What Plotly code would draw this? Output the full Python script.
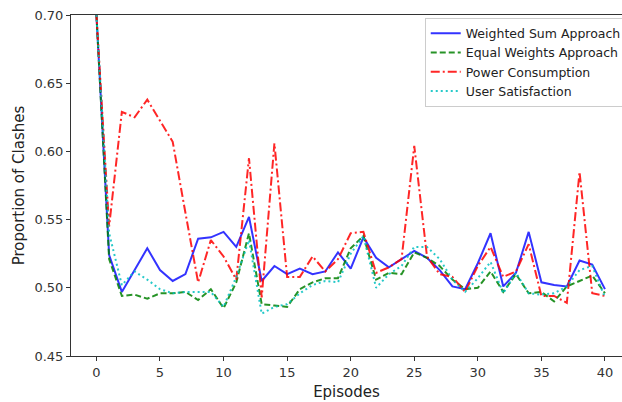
import plotly.graph_objects as go

episodes = list(range(41))

weighted_sum = [0.70, 0.524, 0.497, 0.513, 0.529, 0.513, 0.505, 0.510, 0.536, 0.537,
                0.541, 0.530, 0.552, 0.505, 0.516, 0.510, 0.514, 0.510, 0.512, 0.526,
                0.514, 0.537, 0.522, 0.515, 0.521, 0.527, 0.522, 0.513, 0.501, 0.499,
                0.518, 0.540, 0.501, 0.511, 0.541, 0.504, 0.502, 0.501, 0.520, 0.517,
                0.499]

equal_weights = [0.70, 0.521, 0.494, 0.495, 0.492, 0.496, 0.496, 0.497, 0.491, 0.499,
                 0.485, 0.504, 0.540, 0.488, 0.487, 0.486, 0.499, 0.504, 0.507, 0.507,
                 0.529, 0.538, 0.506, 0.511, 0.510, 0.526, 0.522, 0.516, 0.506, 0.499,
                 0.500, 0.512, 0.497, 0.510, 0.496, 0.497, 0.490, 0.501, 0.505, 0.509,
                 0.496]

power = [0.70, 0.545, 0.629, 0.625, 0.638, 0.623, 0.607, 0.555, 0.504, 0.535,
         0.523, 0.506, 0.595, 0.493, 0.606, 0.508, 0.508, 0.523, 0.512, 0.521,
         0.540, 0.541, 0.511, 0.515, 0.521, 0.604, 0.523, 0.510, 0.508, 0.497,
         0.516, 0.530, 0.508, 0.512, 0.532, 0.494, 0.494, 0.489, 0.585, 0.496,
         0.494]

user_sat = [0.70, 0.540, 0.502, 0.512, 0.506, 0.499, 0.496, 0.497, 0.497, 0.497,
            0.486, 0.508, 0.535, 0.481, 0.486, 0.488, 0.496, 0.502, 0.505, 0.504,
            0.525, 0.538, 0.500, 0.510, 0.516, 0.530, 0.530, 0.521, 0.506, 0.497,
            0.507, 0.519, 0.496, 0.511, 0.496, 0.495, 0.496, 0.501, 0.513, 0.516,
            0.493]

series = [
    ("Weighted Sum Approach", weighted_sum, "rgba(0,0,255,0.8)", "solid"),
    ("Equal Weights Approach", equal_weights, "rgba(0,128,0,0.85)", "6px,3px"),
    ("Power Consumption", power, "rgba(255,0,0,0.85)", "9px,3px,2px,3px"),
    ("User Satisfaction", user_sat, "rgba(0,191,191,0.85)", "2px,3px"),
]

fig = go.Figure()
for name, vals, color, dash in series:
    fig.add_trace(go.Scatter(x=episodes, y=vals, mode="lines", name=name,
                             line=dict(color=color, width=2, dash=dash)))

axis_common = dict(showgrid=False, zeroline=False, showline=True, linecolor="#333",
                   linewidth=1, ticks="outside", ticklen=4, tickcolor="#333",
                   tickfont=dict(family="DejaVu Sans", size=13, color="#333"))

fig.update_layout(
    width=622, height=402,
    margin=dict(l=71, r=0, t=15, b=46, autoexpand=False),
    paper_bgcolor="white", plot_bgcolor="white",
    font=dict(family="DejaVu Sans", color="#222"),
    xaxis=dict(range=[-2, 41.34], tickvals=list(range(0, 41, 5)), mirror=True,
               title=dict(text="Episodes", font=dict(size=15, color="#222"), standoff=7),
               **axis_common),
    yaxis=dict(range=[0.45, 0.70], tickvals=[0.45, 0.50, 0.55, 0.60, 0.65, 0.70],
               tickformat=".2f",
               title=dict(text="Proportion of Clashes", font=dict(size=15, color="#222"), standoff=6),
               **axis_common),
    legend=dict(x=0.642, y=0.992, xanchor="left", yanchor="top",
                bgcolor="rgba(255,255,255,0.8)", bordercolor="#ccc", borderwidth=1,
                font=dict(family="DejaVu Sans", size=12.5, color="#222")),
    showlegend=True,
)

fig.write_html("out.html")
